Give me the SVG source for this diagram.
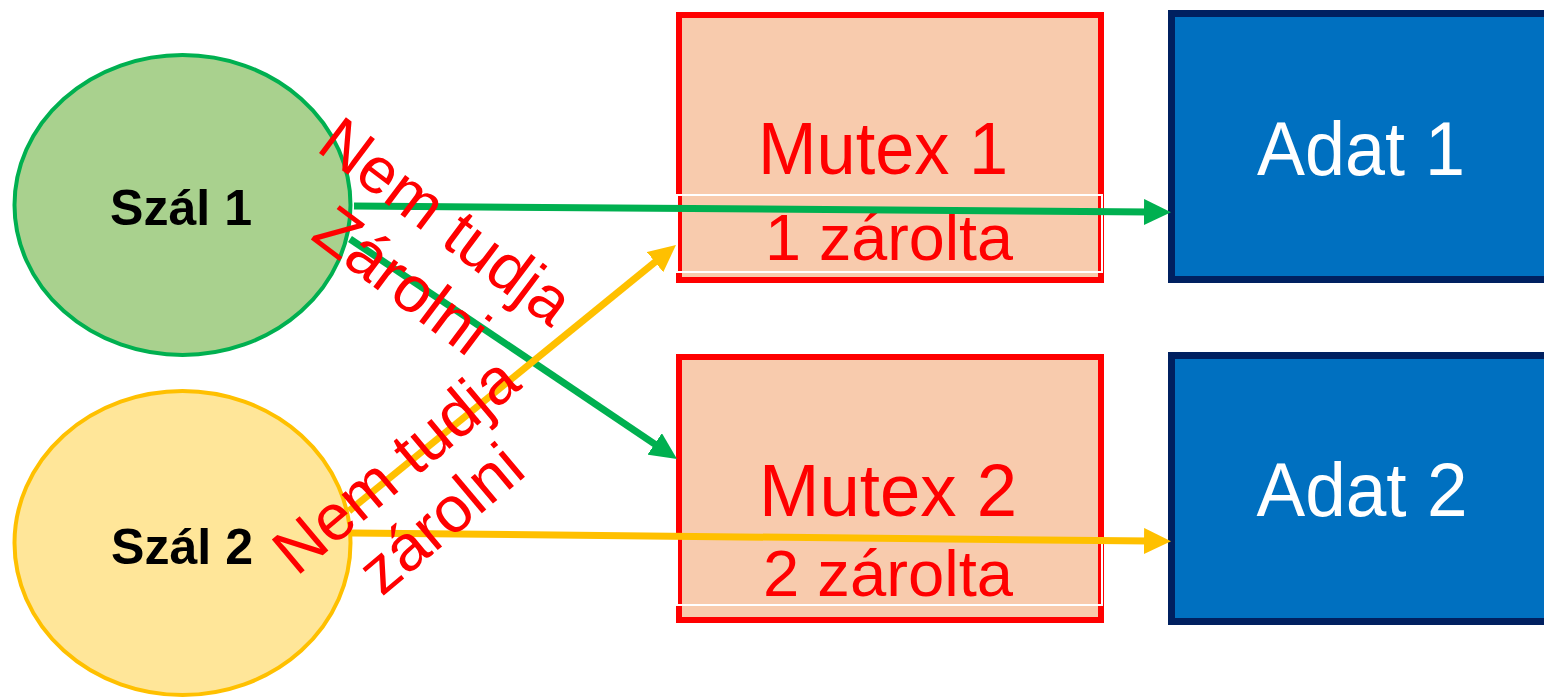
<svg xmlns="http://www.w3.org/2000/svg" width="1544" height="698" viewBox="0 0 1544 698">
<style>
.t{font-family:"Liberation Sans",Arial,sans-serif}
.mutex{fill:#F8CBAD;stroke:#FF0000;stroke-width:6}
.inner{fill:none;stroke:#FFFFFF;stroke-width:2}
.adat{fill:#0070C0;stroke:#002060;stroke-width:7}
.red{fill:#FF0000}
.wh{fill:#FFFFFF}
.szal{font-weight:bold;font-size:50px;fill:#000000}
.g{stroke:#00B050;stroke-width:7;fill:none}
.y{stroke:#FFC000;stroke-width:7;fill:none}
</style>
<defs>
<marker id="ag" markerUnits="userSpaceOnUse" markerWidth="27" markerHeight="26" refX="6" refY="13" orient="auto">
<path d="M0,0 L27,13 L0,26 z" fill="#00B050"/>
</marker>
<marker id="ay" markerUnits="userSpaceOnUse" markerWidth="27" markerHeight="26" refX="6" refY="13" orient="auto">
<path d="M0,0 L27,13 L0,26 z" fill="#FFC000"/>
</marker>
</defs>
<rect width="1544" height="698" fill="#FFFFFF"/>
<g id="szal1">
<ellipse cx="182.5" cy="205" rx="168" ry="150" fill="#A9D18E" stroke="#00B050" stroke-width="4"/>
<text class="t szal" x="181" y="225" text-anchor="middle" textLength="142" lengthAdjust="spacingAndGlyphs">Szál 1</text>
</g>
<g id="szal2">
<ellipse cx="182.5" cy="543" rx="168" ry="152" fill="#FFE699" stroke="#FFC000" stroke-width="4"/>
<text class="t szal" x="182" y="564" text-anchor="middle" textLength="142" lengthAdjust="spacingAndGlyphs">Szál 2</text>
</g>
<g id="mutex1">
<rect class="mutex" x="679" y="15" width="422" height="265"/>
<rect class="inner" x="677" y="195" width="425" height="77"/>
<text class="t red" x="883" y="174" font-size="74" text-anchor="middle" textLength="250" lengthAdjust="spacingAndGlyphs">Mutex 1</text>
<text class="t red" x="889" y="260" font-size="64" text-anchor="middle" textLength="248" lengthAdjust="spacingAndGlyphs">1 zárolta</text>
</g>
<g id="mutex2">
<rect class="mutex" x="679" y="357" width="422" height="263"/>
<rect class="inner" x="677" y="538" width="425" height="67"/>
<text class="t red" x="888" y="516" font-size="74" text-anchor="middle" textLength="258" lengthAdjust="spacingAndGlyphs">Mutex 2</text>
<text class="t red" x="888" y="596" font-size="64" text-anchor="middle" textLength="250" lengthAdjust="spacingAndGlyphs">2 zárolta</text>
</g>
<g id="adat1">
<rect class="adat" x="1171.5" y="13.5" width="400" height="266"/>
<text class="t wh" x="1361" y="175" font-size="76" text-anchor="middle" textLength="208" lengthAdjust="spacingAndGlyphs">Adat 1</text>
</g>
<g id="adat2">
<rect class="adat" x="1171.5" y="355.5" width="400" height="266"/>
<text class="t wh" x="1362" y="516" font-size="76" text-anchor="middle" textLength="211" lengthAdjust="spacingAndGlyphs">Adat 2</text>
</g>
<g id="connectors">
<line class="g" x1="354" y1="206" x2="1150" y2="212" marker-end="url(#ag)"/>
<line class="g" x1="350" y1="239" x2="659.6" y2="447.3" marker-end="url(#ag)"/>
<line class="y" x1="349" y1="511" x2="659.7" y2="258.3" marker-end="url(#ay)"/>
<line class="y" x1="352" y1="533" x2="1150" y2="541" marker-end="url(#ay)"/>
</g>
<g id="label1">
<text class="t red" font-size="65" text-anchor="middle" transform="translate(433,239) rotate(37)"><tspan x="0" y="0">Nem tudja</tspan><tspan x="0" y="74">Zárolni</tspan></text>
</g>
<g id="label2">
<text class="t red" font-size="65" text-anchor="middle" transform="translate(410,482) rotate(-40)"><tspan x="0" y="0">Nem tudja</tspan><tspan x="0" y="70">zárolni</tspan></text>
</g>
</svg>
